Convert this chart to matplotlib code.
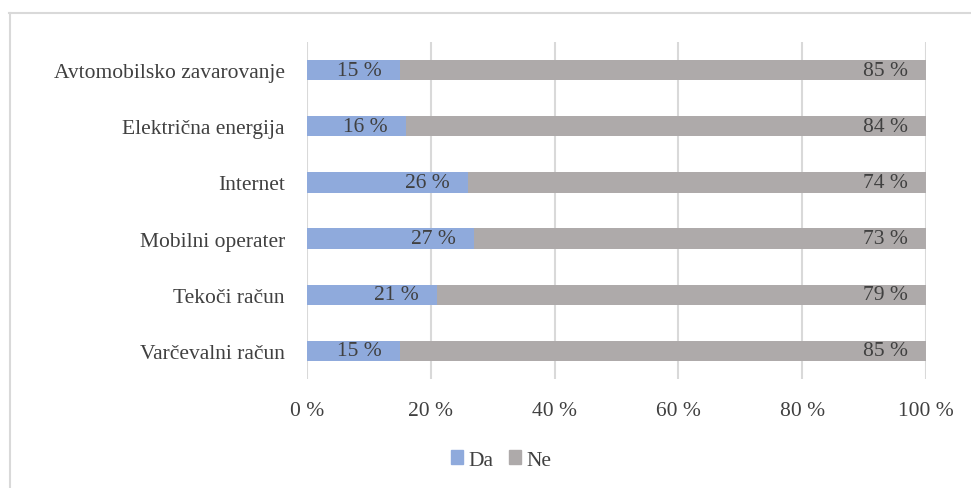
import matplotlib.pyplot as plt
from matplotlib.patches import Rectangle
from matplotlib.lines import Line2D

# Survey answers per service, in percent
categories = ['Avtomobilsko zavarovanje', 'Električna energija', 'Internet',
              'Mobilni operater', 'Tekoči račun', 'Varčevalni račun']
da_values = [15, 16, 26, 27, 21, 15]
ne_values = [85, 84, 74, 73, 79, 85]
series_names = ['Da', 'Ne']
x_ticks = [0, 20, 40, 60, 80, 100]

blue = '#8FAADC'
gray = '#AEAAAA'
text_col = '#404040'
grid_col = '#D9D9D9'
fs = 15.5

plt.rcParams['font.family'] = ['Liberation Serif', 'DejaVu Serif']

fig = plt.figure(figsize=(9.71, 4.89), dpi=100)
ax = fig.add_axes([307 / 971, 1 - 380 / 489, (926 - 307) / 971, (380 - 43) / 489])

# top-to-bottom order
ypos = list(range(len(categories)))[::-1]
bar_h = 0.36

ax.barh(ypos, da_values, height=bar_h, color=blue, label=series_names[0], zorder=3)
ax.barh(ypos, ne_values, left=da_values, height=bar_h, color=gray,
        label=series_names[1], zorder=3)

# labels at the inside end of each segment
for y, d, n in zip(ypos, da_values, ne_values):
    ax.annotate(f'{d} %', (d, y), xytext=(-13, 0), textcoords='offset points',
                ha='right', va='center', fontsize=fs, color=text_col, zorder=4)
    ax.annotate(f'{n} %', (d + n, y), xytext=(-13, 0), textcoords='offset points',
                ha='right', va='center', fontsize=fs, color=text_col, zorder=4)

ax.set_xlim(0, 100)
ax.set_ylim(-0.5, len(categories) - 0.5)
ax.set_xticks(x_ticks)
ax.set_xticklabels([f'{t} %' for t in x_ticks])
ax.set_yticks(ypos)
ax.set_yticklabels(categories)
ax.tick_params(axis='both', length=0, labelsize=fs, colors=text_col)
ax.tick_params(axis='x', pad=16)
ax.tick_params(axis='y', pad=16)
ax.grid(axis='x', color=grid_col, linewidth=1.5, zorder=0)
for s in ax.spines.values():
    s.set_visible(False)

handles = [Rectangle((0, 0), 1, 1, color=blue), Rectangle((0, 0), 1, 1, color=gray)]
fig.legend(handles, series_names, loc='center', bbox_to_anchor=(501 / 971, 1 - 461 / 489),
           ncol=2, frameon=False, fontsize=fs, handlelength=0.56, handleheight=0.56,
           handletextpad=0.25, columnspacing=0.7, labelcolor=text_col)

# outer frame (top and left edges only)
fig.add_artist(Line2D([9 / 971, 1], [1 - 14 / 489, 1 - 14 / 489], color=grid_col,
                      linewidth=1.5, transform=fig.transFigure))
fig.add_artist(Line2D([10 / 971, 10 / 971], [0, 1 - 14 / 489], color=grid_col,
                      linewidth=1.5, transform=fig.transFigure))

fig.savefig('out.png', dpi=100)
